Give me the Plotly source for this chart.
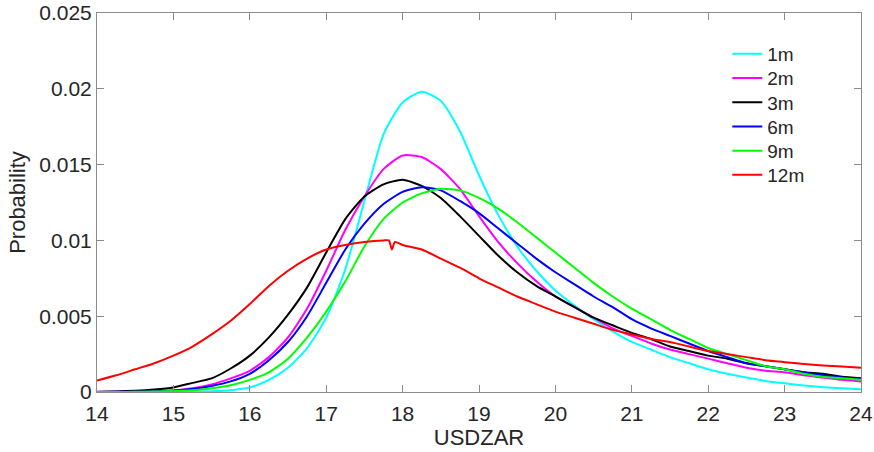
import plotly.graph_objects as go

x_grid = [14.0, 14.25, 14.5, 14.75, 15.0, 15.25, 15.5, 15.75, 16.0, 16.25, 16.5, 16.75,
          17.0, 17.25, 17.5, 17.75, 18.0, 18.25, 18.5, 18.75, 19.0, 19.25, 19.5, 19.75,
          20.0, 20.25, 20.5, 20.75, 21.0, 21.25, 21.5, 21.75, 22.0, 22.25, 22.5, 22.75,
          23.0, 23.25, 23.5, 23.75, 24.0]

p_1m = [0.0, 0.0, 0.0, 0.00001, 0.00002, 0.00003, 0.00005, 0.00012, 0.0003, 0.0008, 0.0016, 0.0029,
        0.0049, 0.0081, 0.0126, 0.0170, 0.0191, 0.0198, 0.0192, 0.0172, 0.0143, 0.0117, 0.0096, 0.0080,
        0.0067, 0.0057, 0.0048, 0.0040, 0.0033, 0.0028, 0.0023, 0.0019, 0.0015, 0.0012, 0.00095, 0.00073,
        0.00057, 0.00043, 0.00032, 0.00024, 0.00018]

p_2m = [0.0, 0.00001, 0.00002, 0.00005, 0.0001, 0.00025, 0.0005, 0.0009, 0.0014, 0.0023, 0.0036, 0.0055,
        0.0080, 0.0107, 0.0129, 0.0147, 0.0156, 0.0155, 0.0147, 0.0134, 0.0116, 0.0099, 0.0085, 0.0073,
        0.0063, 0.0056, 0.0049, 0.0042, 0.0037, 0.0032, 0.0028, 0.0025, 0.0022, 0.0019, 0.0016, 0.0014,
        0.0013, 0.0011, 0.00095, 0.0008, 0.0007]

p_3m = [0.00002, 0.00004, 0.00008, 0.00016, 0.0003, 0.0006, 0.0009, 0.00155, 0.0024, 0.0036, 0.0051, 0.0069,
        0.0092, 0.0114, 0.0129, 0.0137, 0.0140, 0.0136, 0.0128, 0.0116, 0.0103, 0.0090, 0.0079, 0.0070,
        0.0063, 0.0056, 0.0049, 0.0044, 0.0039, 0.0035, 0.0030, 0.0027, 0.0024, 0.0022, 0.0019, 0.0017,
        0.0015, 0.0013, 0.0012, 0.0010, 0.0009]

p_6m = [0.0, 0.00001, 0.00002, 0.00005, 0.0001, 0.0002, 0.0004, 0.0007, 0.0012, 0.0021, 0.0033, 0.0050,
        0.0072, 0.0094, 0.0111, 0.0124, 0.0132, 0.0135, 0.0133, 0.0126, 0.0118, 0.0108, 0.0098, 0.0088,
        0.0079, 0.0071, 0.0063, 0.0056, 0.0048, 0.0042, 0.0037, 0.0032, 0.0027, 0.0023, 0.0019, 0.0017,
        0.0015, 0.0013, 0.0011, 0.00095, 0.00085]

p_9m = [0.0, 0.0, 0.00001, 0.00003, 0.00006, 0.00011, 0.00025, 0.00045, 0.0008, 0.0013, 0.0022, 0.0036,
        0.0053, 0.0073, 0.0096, 0.0114, 0.0125, 0.0131, 0.0134, 0.0133, 0.0128, 0.0121, 0.0112, 0.0102,
        0.0092, 0.0082, 0.0072, 0.0063, 0.0055, 0.0048, 0.0041, 0.0035, 0.0029, 0.0025, 0.0021, 0.0017,
        0.0015, 0.0012, 0.0010, 0.0009, 0.0008]

x_12m = [14.0, 14.25, 14.5, 14.75, 15.0, 15.25, 15.5, 15.75, 16.0, 16.25, 16.5, 16.75,
         17.0, 17.25, 17.5, 17.75, 17.82, 17.86, 17.9, 18.0, 18.25, 18.5, 18.75, 19.0, 19.25, 19.5, 19.75,
         20.0, 20.25, 20.5, 20.75, 21.0, 21.25, 21.5, 21.75, 22.0, 22.25, 22.5, 22.75,
         23.0, 23.25, 23.5, 23.75, 24.0]
p_12m = [0.00075, 0.0011, 0.0015, 0.0019, 0.0024, 0.0030, 0.0038, 0.0047, 0.0058, 0.0070, 0.0080, 0.0088,
         0.0094, 0.0097, 0.0099, 0.0100, 0.0100, 0.0094, 0.0099, 0.0097, 0.0094, 0.0088, 0.0082, 0.0075,
         0.0069, 0.0063, 0.0058, 0.0053, 0.0049, 0.0045, 0.0041, 0.0038, 0.0035, 0.0033, 0.0030, 0.0027,
         0.0025, 0.0023, 0.0021, 0.00197, 0.00185, 0.00175, 0.00168, 0.0016]

series = [
    ("1m", x_grid, p_1m, "#00FFFF"),
    ("2m", x_grid, p_2m, "#FF00FF"),
    ("3m", x_grid, p_3m, "#000000"),
    ("6m", x_grid, p_6m, "#0000FF"),
    ("9m", x_grid, p_9m, "#00FF00"),
    ("12m", x_12m, p_12m, "#FF0000"),
]

x_ticks = [14, 15, 16, 17, 18, 19, 20, 21, 22, 23, 24]
y_ticks = [0, 0.005, 0.01, 0.015, 0.02, 0.025]
y_tick_labels = ["0", "0.005", "0.01", "0.015", "0.02", "0.025"]

FONT = "Liberation Sans, Arial"
TXT = "#262626"

fig = go.Figure()
legend_names = ["legend", "legend2", "legend3", "legend4", "legend5", "legend6"]
for i, (name, xs, ys, col) in enumerate(series):
    fig.add_trace(go.Scatter(x=xs, y=ys, mode="lines", name=name,
                             legend=legend_names[i],
                             line=dict(color=col, width=2, shape="spline", smoothing=0.6)))

axis_common = dict(showline=True, linecolor="#8c8c8c", linewidth=1, mirror="ticks",
                   ticks="inside", ticklen=7, tickcolor="#8c8c8c", showgrid=False,
                   zeroline=False, automargin=False,
                   tickfont=dict(family=FONT, size=21, color=TXT))

layout_legends = {}
top_center = 0.892
step = 0.0639
for i, ln in enumerate(legend_names):
    layout_legends[ln] = dict(x=0.825, y=top_center - i * step, xanchor="left", yanchor="middle",
                              bgcolor="rgba(255,255,255,0)", borderwidth=0,
                              font=dict(family=FONT, size=19, color=TXT))

fig.update_layout(
    width=874, height=452,
    margin=dict(l=97, r=13, t=13, b=60),
    paper_bgcolor="white", plot_bgcolor="white",
    font=dict(family=FONT, color=TXT),
    xaxis=dict(range=[14, 24], tickvals=x_ticks, ticktext=[str(t) for t in x_ticks],
               ticklabelstandoff=3,
               title=dict(text="USDZAR", font=dict(size=22, color=TXT), standoff=4),
               **axis_common),
    yaxis=dict(range=[0, 0.025], tickvals=y_ticks, ticktext=y_tick_labels,
               title=dict(text="Probability", font=dict(size=22, color=TXT), standoff=7),
               **axis_common),
    showlegend=True,
    **layout_legends,
)

fig.write_html("out.html")
